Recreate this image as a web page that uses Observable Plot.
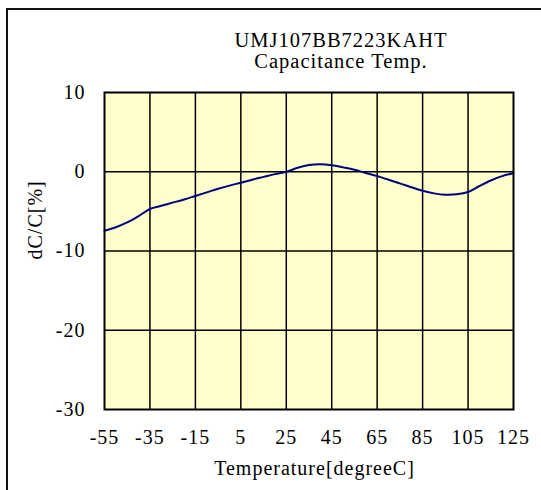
<!DOCTYPE html>
<html>
<head>
<meta charset="utf-8">
<script src="https://cdn.jsdelivr.net/npm/d3@7"></script>
<script src="https://cdn.jsdelivr.net/npm/@observablehq/plot@0.6"></script>
<style>
  html, body { margin: 0; padding: 0; background: #fff; }
  #chart { width: 541px; height: 490px; overflow: hidden; }
</style>
</head>
<body>
<div id="chart"></div>
<script>
const titleLines = ["UMJ107BB7223KAHT", "Capacitance Temp."];
const xLabel = "Temperature[degreeC]";
const yLabel = "dC/C[%]";
const xTicks = [-55, -35, -15, 5, 25, 45, 65, 85, 105, 125];
const yTicks = [-30, -20, -10, 0, 10];
const temperatures = [-55, -50, -45, -40, -35, -30, -25, -20, -15, -10, -5, 0, 5, 10, 15, 20, 25, 30, 35, 40, 45, 50, 55, 60, 65, 70, 75, 80, 85, 90, 95, 100, 105, 110, 115, 120, 125];
const dCC = [-7.45, -7.0, -6.4, -5.6, -4.7, -4.3, -3.9, -3.5, -3.05, -2.6, -2.15, -1.75, -1.38, -1.0, -0.65, -0.3, 0.0, 0.5, 0.85, 0.95, 0.82, 0.55, 0.25, -0.15, -0.55, -1.0, -1.47, -1.95, -2.4, -2.73, -2.9, -2.85, -2.56, -1.8, -1.1, -0.55, -0.2];

const data = temperatures.map((t, i) => ({t, v: dCC[i]}));
const font = "'Liberation Serif', 'Times New Roman', Times, serif";
const fmt = d => String(d);

const svg = Plot.plot({
  width: 541,
  height: 490,
  marginLeft: 104,
  marginRight: 28,
  marginTop: 92,
  marginBottom: 81,
  style: {fontFamily: font, fontSize: "20px", letterSpacing: "1px", background: "#fff", color: "#000"},
  x: {domain: [-55, 125]},
  y: {domain: [-30, 10]},
  marks: [
    Plot.frame({fill: "#FFFFCC"}),
    Plot.gridX(xTicks.slice(1, -1), {stroke: "#000", strokeOpacity: 1, strokeWidth: 1.5}),
    Plot.gridY(yTicks.slice(1, -1), {stroke: "#000", strokeOpacity: 1, strokeWidth: 1.5}),
    Plot.line(data, {x: "t", y: "v", stroke: "#000080", strokeWidth: 2, curve: "catmull-rom"}),
    Plot.frame({stroke: "#000", strokeWidth: 2}),
    Plot.axisX(xTicks, {tickSize: 0, tickPadding: 20, fontSize: 20, label: null, fill: "#000", tickFormat: fmt}),
    Plot.axisY(yTicks, {tickSize: 0, tickPadding: 19, fontSize: 20, label: null, fill: "#000", tickFormat: fmt}),
    Plot.text([titleLines[0]], {frameAnchor: "top", lineAnchor: "bottom", dx: 32, dy: -46, fontSize: 20.5, fill: "#000", style: {letterSpacing: "1.6px"}}),
    Plot.text([titleLines[1]], {frameAnchor: "top", lineAnchor: "bottom", dx: 32, dy: -25, fontSize: 20.5, fill: "#000", style: {letterSpacing: "1.3px"}}),
    Plot.text([xLabel], {frameAnchor: "bottom", lineAnchor: "bottom", dx: 5.5, dy: 65, fontSize: 20, fill: "#000"}),
    Plot.text([yLabel], {frameAnchor: "left", lineAnchor: "bottom", rotate: -90, dx: -63, dy: 8.5, fontSize: 20, fill: "#000"})
  ]
});

d3.select(svg).append("rect")
  .attr("x", 7).attr("y", 9)
  .attr("width", 800).attr("height", 800)
  .attr("fill", "none").attr("stroke", "#111").attr("stroke-width", 2);

document.getElementById("chart").appendChild(svg);
</script>
</body>
</html>
